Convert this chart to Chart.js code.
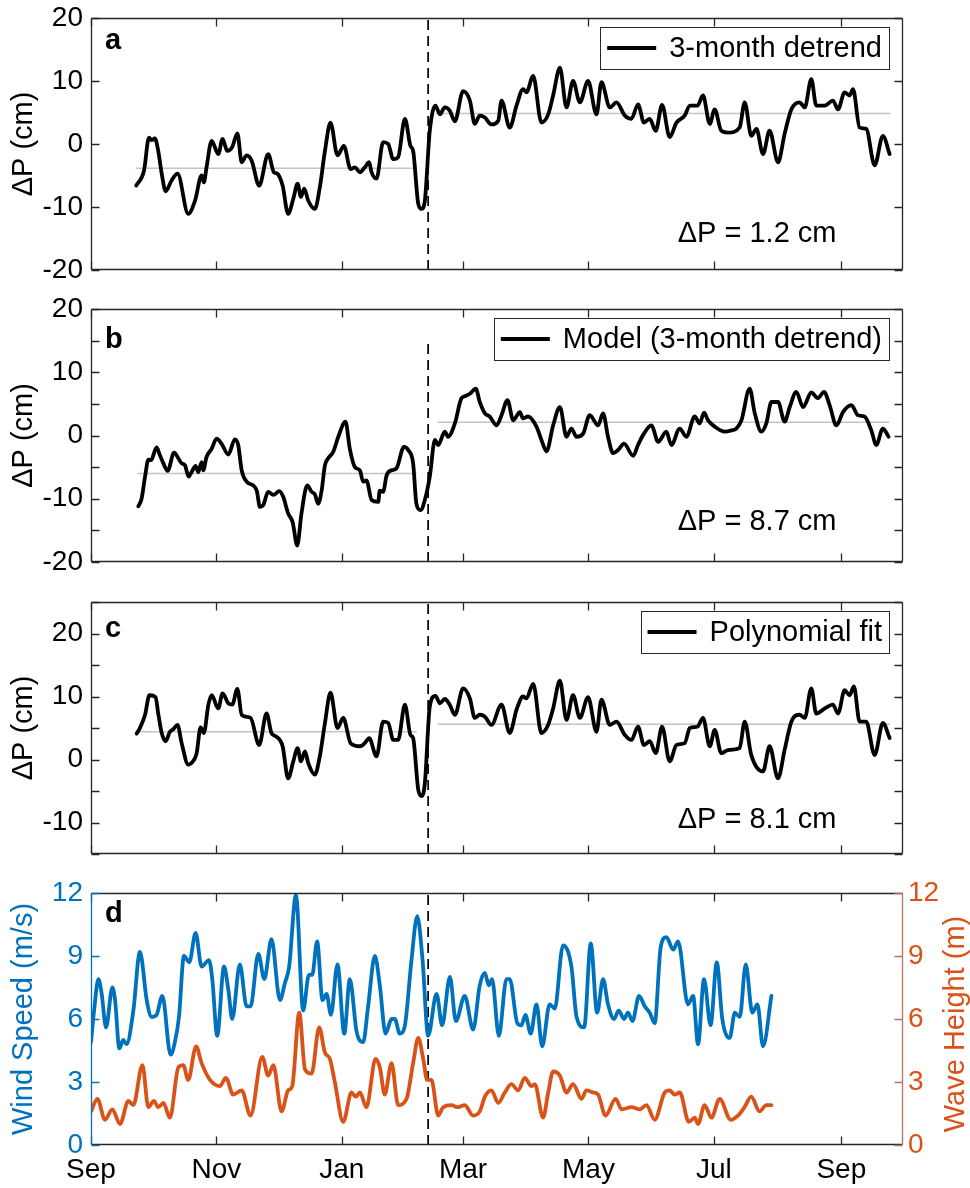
<!DOCTYPE html>
<html>
<head>
<meta charset="utf-8">
<script src="https://cdn.jsdelivr.net/npm/chart.js@4.4.0/dist/chart.umd.min.js"></script>
<style>
  html, body { margin: 0; padding: 0; background: #fff; }
  #wrap { position: relative; width: 970px; height: 1188px; overflow: hidden; }
  .panel { position: absolute; left: 0; width: 970px; }
  canvas { display: block; }
</style>
</head>
<body>
<div id="wrap">
  <div class="panel" style="top:0px"><canvas id="pa" width="970" height="290"></canvas></div>
  <div class="panel" style="top:290px"><canvas id="pb" width="970" height="290"></canvas></div>
  <div class="panel" style="top:580px"><canvas id="pc" width="970" height="294"></canvas></div>
  <div class="panel" style="top:874px"><canvas id="pd" width="970" height="314"></canvas></div>
</div>
<script>
// x axis: days since 1 Sep
const monthDays = [0, 61, 122, 181, 242, 303, 365];
const monthLabels = ['Sep', 'Nov', 'Jan', 'Mar', 'May', 'Jul', 'Sep'];
const xMax = 395;
const breakDay = 164;

// y ticks (labels only on multiples of 10 for the pressure panels)
const yTicksA = [-20, -10, 0, 10, 20];
const yTicksB = [-20, -15, -10, -5, 0, 5, 10, 15, 20];
const yTicksC = [-15, -10, -5, 0, 5, 10, 15, 20, 25];
const yTicksD = [0, 3, 6, 9, 12];

// panel a: 3-month detrend [day, cm]
const seriesA = [[22,-6.6],[25.8,-4.2],[28.2,1.0],[29.5,0.6],[31.1,0.9],[32.7,-1.1],[34.4,-4.7],[36.3,-7.5],[39.2,-5.8],[42.1,-4.7],[47.3,-11.1],[50.6,-9.0],[53.8,-5.0],[54.9,-6.1],[56.2,-3.7],[58.7,0.5],[61.9,-1.6],[64.0,0.8],[66.3,-1.1],[68.7,-0.5],[71.2,1.7],[73.3,-2.9],[75.7,-1.8],[78.1,-2.6],[81.8,-6.6],[86.2,-1.6],[89.0,-4.5],[90.6,-4.7],[93.2,-6.6],[95.9,-11.1],[98.4,-8.7],[100.5,-6.3],[102.1,-8.4],[103.7,-7.1],[105.7,-9.0],[108.9,-10.3],[111.3,-6.9],[113.8,-1.1],[116.5,3.4],[119.9,-1.8],[123.0,-0.3],[126.3,-4.0],[128.4,-3.7],[130.8,-4.5],[133.2,-3.7],[135.3,-2.9],[136.5,-4.5],[138.9,-5.5],[142.1,0.3],[144.6,0.0],[147.0,-2.4],[149.4,-2.1],[152.7,4.0],[155.4,-0.3],[156.7,-1.1],[159.2,-9.5],[160.8,-10.3],[162.4,-9.0],[164.8,2.1],[167.6,6.1],[169.7,4.7],[172.1,5.8],[174.5,5.3],[177.0,3.6],[181.0,8.4],[184.3,6.9],[186.7,3.2],[189.1,4.5],[191.6,4.2],[194.8,3.1],[198.1,3.7],[199.7,6.9],[203.7,2.6],[207.0,6.1],[210.2,8.7],[211.8,8.2],[215.1,10.8],[219.1,3.4],[222.4,4.7],[224.8,7.7],[228.1,12.1],[231.3,5.8],[234.5,10.0],[237.8,6.6],[241.8,10.0],[245.9,4.7],[248.3,9.8],[252.4,5.8],[255.6,6.6],[259.7,4.5],[262.9,4.0],[266.1,6.3],[269.0,3.4],[271.8,4.0],[274.7,2.1],[277.8,6.2],[281.5,1.1],[284.8,3.4],[288.8,4.5],[291.3,6.1],[295.0,6.1],[297.7,7.7],[301.0,3.2],[303.4,5.5],[306.6,2.1],[309.9,1.8],[315.5,2.6],[318.0,6.6],[321.2,1.3],[323.7,2.4],[326.9,-1.6],[330.1,2.1],[334.2,-2.9],[337.4,1.6],[340.7,5.5],[344.7,6.6],[347.2,5.8],[350.4,10.3],[352.8,6.1],[356.9,6.1],[360.9,6.9],[363.4,5.5],[366.6,8.2],[369.0,7.7],[370.7,8.7],[373.9,2.6],[377.1,2.4],[381.2,-3.4],[385.2,1.3],[388.5,-1.6]];
const meanBeforeA = [[22,-3.85],[158.3,-3.85]];
const meanAfterA = [[168.1,4.85],[388.5,4.85]];

// panel b: model (3-month detrend)
const seriesB = [[23.0,-11.2],[24.6,-10.0],[26.3,-6.5],[27.9,-3.8],[29.2,-3.9],[31.9,-1.9],[33.5,-3.1],[35.2,-4.4],[37.3,-5.6],[40.4,-2.7],[42.5,-3.6],[44.1,-4.4],[45.7,-4.7],[47.5,-6.5],[48.9,-5.8],[50.9,-4.8],[52.2,-5.8],[53.8,-4.2],[54.6,-5.5],[56.2,-3.4],[58.7,-2.1],[61.1,-0.5],[63.5,-1.3],[66.8,-3.0],[70.0,-0.6],[71.6,-1.5],[73.3,-5.5],[75.7,-7.3],[78.9,-7.9],[80.6,-8.7],[82.2,-11.3],[83.8,-11.0],[86.2,-8.9],[88.7,-9.4],[91.6,-8.8],[93.5,-9.7],[95.9,-12.3],[98.1,-13.7],[100.3,-17.4],[102.4,-12.3],[105.2,-7.9],[107.3,-8.9],[108.9,-9.3],[110.5,-10.8],[112.2,-8.7],[113.8,-4.7],[115.4,-3.6],[117.8,-2.6],[120.3,-0.2],[123.8,2.2],[125.9,-2.1],[128.4,-5.0],[130.8,-5.5],[132.4,-7.3],[134.0,-7.1],[136.5,-10.2],[139.7,-10.5],[140.5,-8.7],[142.1,-8.9],[143.8,-6.3],[146.2,-5.5],[148.6,-5.2],[152.2,-1.8],[154.3,-2.3],[156.7,-4.4],[158.3,-10.8],[160.3,-11.8],[162.4,-10.2],[164.8,-6.5],[167.3,-0.7],[168.9,-1.5],[172.1,0.6],[173.7,-0.2],[177.0,1.9],[180.2,5.9],[181.8,6.2],[184.3,6.6],[187.2,7.4],[189.1,5.3],[191.6,3.5],[194.0,3.0],[197.3,1.6],[199.7,3.2],[202.6,5.6],[205.4,2.4],[208.6,3.7],[210.2,2.7],[212.6,3.0],[216.7,1.4],[219.1,-0.7],[221.6,-2.5],[224.8,1.6],[228.1,4.5],[231.3,-0.2],[233.7,1.1],[236.2,-0.2],[239.4,0.3],[242.6,3.2],[246.7,1.6],[249.1,3.5],[251.5,-0.2],[254.0,-2.8],[256.4,-2.3],[259.3,-1.3],[263.7,-3.2],[266.1,-1.5],[268.6,0.1],[272.6,1.6],[275.9,-1.0],[279.9,0.6],[282.3,-1.5],[286.4,1.1],[289.6,-0.2],[293.7,3.0],[296.1,1.9],[298.2,3.6],[300.2,2.4],[303.4,1.4],[308.3,0.6],[311.5,0.8],[313.9,1.1],[316.4,2.4],[320.4,7.4],[322.9,3.5],[326.1,0.6],[328.5,1.9],[331.0,5.3],[334.2,5.3],[337.4,2.2],[339.9,4.5],[343.1,6.9],[346.4,4.5],[350.4,6.8],[353.6,5.9],[356.6,6.9],[359.3,4.8],[362.6,1.6],[365.8,3.7],[369.9,4.8],[373.1,3.2],[376.3,3.0],[379.6,0.8],[382.0,-1.5],[385.2,1.1],[388.0,-0.2]];
const meanBeforeB = [[23,-6.0],[158.3,-6.0]];
const meanAfterB = [[168.9,2.1],[388,2.1]];

// panel c: polynomial fit
const seriesC = [[22.2,4.1],[23.8,5.0],[26.3,7.1],[28.4,10.2],[31.4,9.9],[32.7,7.3],[34.4,4.2],[36.3,2.9],[38.4,4.4],[40.0,4.8],[42.1,5.5],[44.1,2.6],[47.3,-0.8],[49.8,-0.2],[51.4,1.0],[53.3,5.1],[54.9,4.2],[57.1,8.7],[58.7,10.2],[61.9,8.1],[64.0,10.5],[66.8,8.9],[68.7,8.7],[71.2,11.2],[73.3,7.1],[77.6,6.6],[81.8,2.3],[85.4,7.3],[87.8,4.2],[90.3,3.6],[93.2,2.1],[95.9,-3.0],[98.4,-0.3],[100.5,1.8],[102.1,-0.3],[104.1,1.3],[105.7,-0.6],[108.9,-2.4],[111.3,0.5],[113.8,5.8],[116.5,10.6],[119.9,5.0],[122.7,6.6],[126.3,2.6],[130.8,2.1],[133.2,2.6],[135.3,3.4],[138.9,0.5],[142.1,6.0],[144.6,5.8],[147.0,3.1],[149.4,3.1],[152.7,8.7],[155.4,3.9],[156.7,3.4],[159.2,-4.8],[160.8,-5.8],[162.4,-3.8],[164.8,8.4],[167.6,10.1],[169.7,8.9],[172.1,9.6],[174.5,8.7],[177.0,7.1],[181.0,11.3],[184.3,9.7],[186.7,6.6],[189.1,7.1],[191.6,6.8],[194.8,5.5],[199.7,8.7],[203.7,4.2],[207.0,7.9],[210.2,10.0],[211.8,9.7],[215.1,12.0],[219.1,4.2],[222.4,5.5],[224.8,8.1],[228.1,12.5],[231.3,6.3],[234.5,10.2],[237.8,6.6],[241.8,9.9],[245.9,4.4],[248.3,9.5],[252.4,5.5],[255.6,6.0],[259.7,3.9],[262.9,3.1],[266.1,5.2],[269.0,2.3],[271.8,2.9],[274.7,1.0],[277.8,5.2],[281.5,-0.3],[284.8,2.3],[288.8,2.6],[291.3,5.0],[295.0,5.2],[297.7,6.6],[301.0,2.1],[303.4,4.7],[306.6,1.0],[309.9,1.5],[315.5,1.8],[318.0,6.0],[321.2,0.7],[326.9,-1.9],[330.1,2.1],[334.2,-3.0],[337.4,1.5],[340.7,6.0],[344.7,7.1],[347.2,6.6],[350.4,11.3],[352.8,7.3],[356.9,8.1],[360.9,8.7],[363.4,7.3],[366.6,11.0],[369.0,10.2],[371.1,11.6],[373.9,6.0],[377.1,6.0],[381.2,0.7],[385.2,5.8],[388.5,3.4]];
const meanBeforeC = [[22.2,4.4],[158.3,4.4]];
const meanAfterC = [[168.9,5.6],[388.5,5.6]];

// panel d: wind speed (m/s) and wave height (m)
const windSpeed = [[0,4.9],[1.5,6.4],[3.6,7.9],[5.2,7.2],[7.3,5.6],[10.4,7.5],[11.7,6.9],[13.8,4.6],[15.7,5.0],[17.3,4.8],[20.6,6.4],[23.8,9.2],[27.1,6.9],[29.5,6.1],[31.9,6.2],[34.7,7.1],[38.7,4.3],[40.8,4.9],[42.8,6.1],[45.2,9.0],[47.8,8.7],[50.9,10.1],[53.8,8.5],[57.4,8.8],[59.0,7.9],[61.4,5.2],[64.7,8.5],[66.8,7.4],[68.7,6.0],[72.4,8.6],[75.7,6.6],[77.6,6.6],[81.4,9.1],[84.3,7.9],[87.8,9.8],[91.9,6.9],[94.3,7.7],[96.4,8.5],[99.7,11.9],[103.2,6.4],[106.0,8.1],[107.6,8.1],[110.0,9.7],[112.6,6.9],[114.6,7.2],[116.7,6.2],[119.9,8.6],[123.2,5.3],[125.9,7.9],[129.2,5.4],[132.4,4.9],[134.8,6.6],[138.1,9.0],[140.5,7.6],[143.3,5.3],[146.2,6.0],[147.8,6.0],[150.2,5.3],[152.7,5.7],[155.9,8.8],[158.7,10.9],[161.3,8.8],[164.0,5.2],[168.1,7.2],[170.8,5.7],[174.6,8.0],[177.5,5.9],[181.8,7.1],[185.9,5.5],[189.1,7.6],[191.6,8.2],[193.5,7.6],[195.1,7.9],[198.4,5.2],[202.1,7.9],[203.7,7.9],[207.4,5.8],[209.4,5.7],[211.3,6.2],[213.9,5.3],[216.7,6.7],[219.5,4.7],[223.1,6.7],[225.6,6.5],[229.6,9.5],[233.7,8.5],[236.2,6.1],[239.9,5.6],[243.1,9.6],[246.2,6.3],[249.1,7.9],[251.5,6.7],[254.4,6.0],[256.7,6.4],[259.3,6.0],[261.2,6.3],[263.4,5.9],[266.6,7.1],[269.4,6.6],[271.8,6.3],[274.2,5.8],[277.1,9.4],[279.9,9.9],[283.2,9.3],[285.6,9.7],[290.4,6.7],[292.9,7.1],[295.3,4.8],[298.2,7.9],[301.4,5.7],[304.4,8.7],[307.1,6.0],[310.7,5.1],[313.2,6.3],[315.6,6.1],[318.5,8.6],[321.7,6.3],[324.2,6.7],[326.9,4.7],[331.0,7.1]];
const waveHeight = [[0,1.6],[3.1,2.2],[6.8,1.2],[10.4,1.7],[14.1,1.0],[18.2,2.1],[20.6,1.9],[25.0,3.8],[27.9,1.8],[30.6,2.1],[32.7,1.8],[35.2,2.0],[38.4,1.3],[42.5,3.7],[44.9,3.8],[47.3,3.1],[51.1,4.7],[53.8,3.9],[57.9,3.1],[62.7,2.8],[65.6,3.2],[69.2,2.4],[73.3,2.6],[77.6,1.4],[83.3,4.2],[86.2,3.3],[88.7,3.8],[92.7,1.6],[95.9,2.6],[97.9,2.8],[101.3,6.3],[104.1,3.6],[107.3,3.4],[111.0,5.6],[113.8,4.4],[116.2,4.1],[118.6,3.0],[122.7,1.1],[126.7,2.5],[128.8,2.3],[130.8,2.5],[134.0,1.8],[138.4,4.1],[140.5,3.7],[142.9,2.4],[146.2,3.9],[149.4,1.9],[153.5,2.2],[156.7,3.9],[159.2,5.1],[161.6,4.1],[163.5,3.1],[165.6,3.1],[168.9,1.4],[171.3,1.8],[175.4,1.9],[178.1,1.8],[181.8,1.9],[185.9,1.4],[189.1,1.6],[191.6,2.3],[194.8,2.6],[198.1,2.0],[201.3,2.5],[204.5,2.9],[207.8,2.6],[211.0,3.2],[214.3,2.8],[215.9,2.9],[219.9,1.3],[222.4,2.5],[224.8,3.5],[228.1,3.3],[231.3,2.5],[234.5,2.9],[238.6,2.2],[241.0,2.6],[244.2,2.5],[246.7,2.4],[250.3,1.4],[255.2,2.2],[258.1,1.7],[262.9,1.8],[267.0,1.7],[270.2,1.9],[274.2,1.2],[279.1,2.5],[281.5,2.6],[283.9,2.4],[286.4,2.5],[290.8,1.1],[293.7,1.3],[295.3,1.0],[298.5,1.9],[301.8,1.3],[305.8,2.2],[311.2,1.2],[314.7,1.4],[317.9,1.8],[321.2,2.3],[325.2,1.6],[328.5,1.9],[331.0,1.9]];

// text
const panelLetters = ['a', 'b', 'c', 'd'];
const letterY = [15.1, 13.8, 19.4, 10.6];
const legendLabels = ['3-month detrend', 'Model (3-month detrend)', 'Polynomial fit'];
const deltaNotes = ['\u0394P = 1.2 cm', '\u0394P = 8.7 cm', '\u0394P = 8.1 cm'];
const noteY = [-15.6, -15.0, -10.9];

const FONT = '"Liberation Sans", Arial, Helvetica, sans-serif';
const AXIS = '#262626';
const BLUE = '#0072BD';
const ORANGE = '#D95319';

function pts(arr) {
    return arr.map(p => ({ x: p[0], y: p[1] }));
}

// draws box, inward ticks, axis titles, letters, legend and notes
const framePlugin = {
    id: 'frame',
    afterDraw(chart, args, opts) {
        const ctx = chart.ctx;
        const ca = chart.chartArea;
        const xs = chart.scales.x;
        const ys = chart.scales.y;
        const tick = 8;
        ctx.save();

        // letter + note (data coords)
        ctx.fillStyle = '#000';
        ctx.textAlign = 'left';
        ctx.textBaseline = 'alphabetic';
        ctx.font = 'bold 29px ' + FONT;
        ctx.fillText(opts.letter, xs.getPixelForValue(6.8), ys.getPixelForValue(opts.letterY));
        if (opts.note) {
            ctx.font = '29px ' + FONT;
            ctx.fillText(opts.note, xs.getPixelForValue(285.4), ys.getPixelForValue(opts.noteY));
        }

        // legend box
        if (opts.legend) {
            ctx.font = '29px ' + FONT;
            const tw = ctx.measureText(opts.legend).width;
            const boxR = ca.right - 14;
            const boxT = ca.top + 9;
            const boxH = 42;
            const textX = boxR - 7 - tw;
            const lineR = textX - 13;
            const lineL = lineR - 49;
            const boxL = lineL - 7;
            ctx.fillStyle = '#fff';
            ctx.fillRect(boxL, boxT, boxR - boxL, boxH);
            ctx.strokeStyle = AXIS;
            ctx.lineWidth = 1;
            ctx.strokeRect(Math.round(boxL) + 0.5, boxT + 0.5, Math.round(boxR - boxL), boxH);
            ctx.strokeStyle = '#000';
            ctx.lineWidth = 3.8;
            ctx.beginPath();
            ctx.moveTo(lineL, boxT + boxH / 2);
            ctx.lineTo(lineR, boxT + boxH / 2);
            ctx.stroke();
            ctx.fillStyle = '#000';
            ctx.textBaseline = 'middle';
            ctx.fillText(opts.legend, textX, boxT + boxH / 2 + 1);
        }

        // frame
        ctx.lineWidth = 1.3;
        const L = ca.left + 0.5, R = ca.right - 0.5, T = ca.top + 0.5, B = ca.bottom - 0.5;
        ctx.strokeStyle = AXIS;
        ctx.beginPath();
        ctx.moveTo(L, T); ctx.lineTo(R, T);
        ctx.moveTo(L, B); ctx.lineTo(R, B);
        monthDays.forEach(v => {
            const px = Math.round(xs.getPixelForValue(v)) + 0.5;
            ctx.moveTo(px, B); ctx.lineTo(px, B - tick);
            ctx.moveTo(px, T); ctx.lineTo(px, T + tick);
        });
        ctx.stroke();

        const yr = chart.scales.y2 || ys;
        ctx.strokeStyle = opts.leftColor;
        ctx.beginPath();
        ctx.moveTo(L, T); ctx.lineTo(L, B);
        ys.ticks.forEach(t => {
            const py = Math.round(ys.getPixelForValue(t.value)) + 0.5;
            ctx.moveTo(L, py); ctx.lineTo(L + tick, py);
        });
        ctx.stroke();

        ctx.strokeStyle = opts.rightColor;
        ctx.beginPath();
        ctx.moveTo(R, T); ctx.lineTo(R, B);
        yr.ticks.forEach(t => {
            const py = Math.round(yr.getPixelForValue(t.value)) + 0.5;
            ctx.moveTo(R, py); ctx.lineTo(R - tick, py);
        });
        ctx.stroke();

        // axis titles
        ctx.font = '29px ' + FONT;
        ctx.textAlign = 'center';
        ctx.textBaseline = 'middle';
        ctx.fillStyle = opts.leftTitleColor;
        ctx.save();
        ctx.translate(24, (ca.top + ca.bottom) / 2);
        ctx.rotate(-Math.PI / 2);
        ctx.fillText(opts.leftTitle, 0, 0);
        ctx.restore();
        if (opts.rightTitle) {
            ctx.fillStyle = ORANGE;
            ctx.save();
            ctx.translate(956, (ca.top + ca.bottom) / 2 + 5);
            ctx.rotate(-Math.PI / 2);
            ctx.fillText(opts.rightTitle, 0, 0);
            ctx.restore();
        }
        ctx.restore();
    }
};

// remove the extra room Chart.js keeps for edge labels, so the plot box sits exactly
function noEdgePadding(s) {
    s.paddingTop = 0;
    s.paddingBottom = 0;
    s.paddingLeft = 0;
    s.paddingRight = 0;
}

function xScale(showLabels, height) {
    return {
        type: 'linear',
        min: 0,
        max: xMax,
        afterBuildTicks: s => { s.ticks = monthDays.map(v => ({ value: v })); },
        afterFit: s => { s.height = height; noEdgePadding(s); },
        grid: { display: false, drawTicks: false },
        border: { display: false },
        ticks: {
            display: showLabels,
            autoSkip: false,
            maxRotation: 0,
            padding: 8,
            color: '#000',
            font: { family: FONT, size: 28 },
            callback: v => monthLabels[monthDays.indexOf(v)]
        }
    };
}

function yScale(tickValues, color, labelEvery, position, width, pad) {
    return {
        type: 'linear',
        position: position,
        min: tickValues[0],
        max: tickValues[tickValues.length - 1],
        afterBuildTicks: s => { s.ticks = tickValues.map(v => ({ value: v })); },
        afterFit: s => { s.width = width; noEdgePadding(s); },
        grid: { display: false, drawTicks: false },
        border: { display: false },
        ticks: {
            autoSkip: false,
            padding: pad,
            color: color,
            font: { family: FONT, size: 28 },
            callback: v => (v % labelEvery === 0 ? String(v) : '')
        }
    };
}

function lineSet(data, color, width, order, axis) {
    return {
        data: pts(data),
        borderColor: color,
        borderWidth: width,
        pointRadius: 0,
        fill: false,
        cubicInterpolationMode: 'monotone',
        borderJoinStyle: 'round',
        borderCapStyle: 'round',
        order: order,
        yAxisID: axis || 'y'
    };
}

function dashSet(y0, y1, axis) {
    return {
        data: [{ x: breakDay, y: y0 }, { x: breakDay, y: y1 }],
        borderColor: '#000',
        borderWidth: 1.7,
        borderDash: [10, 6],
        pointRadius: 0,
        order: 1,
        yAxisID: axis || 'y'
    };
}

function pressurePanel(id, idx, series, meanBefore, meanAfter, yTicks, dashTop, padTop, xHeight) {
    return new Chart(document.getElementById(id), {
        type: 'line',
        data: {
            datasets: [
                lineSet(series, '#000', 3.8, 0),
                lineSet(meanBefore, '#c4c4c4', 1.6, 2),
                lineSet(meanAfter, '#c4c4c4', 1.6, 2),
                dashSet(yTicks[0], dashTop)
            ]
        },
        options: {
            responsive: false,
            animation: false,
            devicePixelRatio: 1,
            layout: { padding: { top: padTop, right: 67, left: 0, bottom: 0 } },
            plugins: {
                legend: { display: false },
                tooltip: { enabled: false },
                frame: {
                    letter: panelLetters[idx],
                    letterY: letterY[idx],
                    legend: legendLabels[idx],
                    note: deltaNotes[idx],
                    noteY: noteY[idx],
                    leftColor: AXIS,
                    rightColor: AXIS,
                    leftTitle: '\u0394P (cm)',
                    leftTitleColor: '#000'
                }
            },
            scales: {
                x: xScale(false, xHeight),
                y: yScale(yTicks, '#000', 10, 'left', 91, 8)
            }
        },
        plugins: [framePlugin]
    });
}

pressurePanel('pa', 0, seriesA, meanBeforeA, meanAfterA, yTicksA, 20, 18, 20);
pressurePanel('pb', 1, seriesB, meanBeforeB, meanAfterB, yTicksB, 15, 19, 18);
pressurePanel('pc', 2, seriesC, meanBeforeC, meanAfterC, yTicksC, 25, 22, 20);

new Chart(document.getElementById('pd'), {
    type: 'line',
    data: {
        datasets: [
            lineSet(windSpeed, BLUE, 3.8, 0, 'y'),
            lineSet(waveHeight, ORANGE, 3.8, 0, 'y2'),
            dashSet(0, 12)
        ]
    },
    options: {
        responsive: false,
        animation: false,
        devicePixelRatio: 1,
        layout: { padding: { top: 19, right: 0, left: 0, bottom: 0 } },
        plugins: {
            legend: { display: false },
            tooltip: { enabled: false },
            frame: {
                letter: panelLetters[3],
                letterY: letterY[3],
                legend: null,
                note: null,
                leftColor: BLUE,
                rightColor: '#b0735c',
                leftTitle: 'Wind Speed (m/s)',
                leftTitleColor: BLUE,
                rightTitle: 'Wave Height (m)'
            }
        },
        scales: {
            x: xScale(true, 43),
            y: yScale(yTicksD, BLUE, 3, 'left', 91, 8),
            y2: yScale(yTicksD, ORANGE, 3, 'right', 67, 5)
        }
    },
    plugins: [framePlugin]
});
</script>
</body>
</html>
